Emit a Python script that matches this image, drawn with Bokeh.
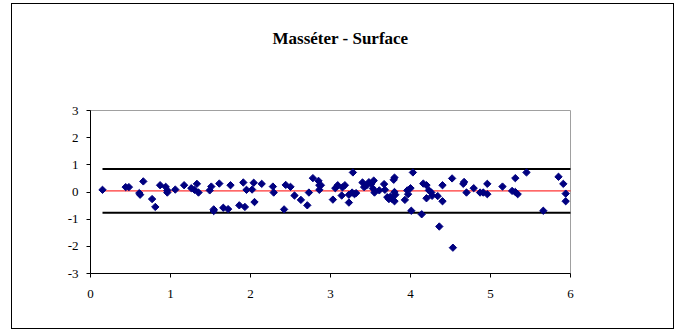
from bokeh.plotting import figure
from bokeh.models import Range1d, FixedTicker, Title
from bokeh.embed import file_html
from bokeh.resources import INLINE

title_text = "Masséter - Surface"

x_vals = [0.15, 0.44, 0.48, 0.61, 0.62, 0.66, 0.77, 0.81, 0.87, 0.94, 0.96, 0.96,
          1.06, 1.17, 1.26, 1.30, 1.33, 1.35, 1.49, 1.51, 1.54, 1.54, 1.61, 1.66,
          1.72, 1.75, 1.86, 1.91, 1.93, 1.95, 2.02, 2.04, 2.05, 2.14, 2.28, 2.29,
          2.42, 2.44, 2.50, 2.55, 2.63, 2.71, 2.73, 2.78, 2.85, 2.86, 2.86, 2.88,
          3.03, 3.06, 3.09, 3.14, 3.15, 3.18, 3.23, 3.23, 3.27, 3.28, 3.30, 3.32,
          3.40, 3.42, 3.45, 3.48, 3.51, 3.54, 3.53, 3.55, 3.61, 3.67, 3.68, 3.71,
          3.73, 3.75, 3.79, 3.80, 3.80, 3.80, 3.81, 3.77, 3.93, 3.96, 3.97, 4.00,
          4.01, 4.03, 4.14, 4.16, 4.20, 4.20, 4.23, 4.26, 4.27, 4.34, 4.36, 4.40,
          4.40, 4.52, 4.53, 4.66, 4.67, 4.70, 4.79, 4.87, 4.91, 4.96, 4.96, 5.15,
          5.27, 5.31, 5.31, 5.34, 5.45, 5.66, 5.85, 5.91, 5.94, 5.94]
y_vals = [0.08, 0.18, 0.18, -0.04, -0.10, 0.39, -0.26, -0.55, 0.25, 0.19, -0.02, 0.06,
          0.09, 0.25, 0.14, 0.08, 0.30, -0.02, 0.06, 0.20, -0.64, -0.70, 0.31, -0.58,
          -0.63, 0.25, -0.49, 0.35, -0.55, 0.08, 0.09, 0.34, -0.37, 0.30, 0.20, -0.02,
          -0.64, 0.26, 0.19, -0.13, -0.29, -0.49, -0.02, 0.51, 0.41, 0.25, 0.08, 0.25,
          -0.28, 0.14, 0.25, -0.13, 0.17, 0.25, -0.39, -0.10, -0.02, 0.72, -0.08, -0.04,
          0.35, 0.18, 0.24, 0.36, 0.30, 0.42, 0.13, -0.02, 0.06, 0.29, 0.08, -0.19,
          -0.26, -0.17, 0.45, 0.53, -0.34, 0.00, -0.10, -0.26, -0.29, 0.06, -0.08, 0.14,
          -0.69, 0.72, -0.82, 0.31, 0.25, -0.23, 0.06, -0.02, -0.14, -0.15, -1.27, 0.25,
          -0.34, 0.50, -2.05, 0.30, 0.37, -0.02, 0.14, -0.02, -0.02, 0.30, -0.08, 0.20,
          0.04, 0.51, 0.00, -0.08, 0.72, -0.69, 0.56, 0.30, -0.06, -0.34]

line_x = [0.15, 6.05]
mean_diff = 0.04
upper_limit = 0.85
lower_limit = -0.76

x_ticks = [0, 1, 2, 3, 4, 5, 6]
y_ticks = [-3, -2, -1, 0, 1, 2, 3]

SERIF = "'Liberation Serif'"

p = figure(width=663, height=326, output_backend="svg", toolbar_location=None,
           x_range=Range1d(0, 6), y_range=Range1d(-3, 3),
           min_border_left=78, min_border_right=105,
           min_border_top=106, min_border_bottom=57)

p.styles = {"border": "1px solid black", "box-sizing": "border-box",
            "margin-left": "11px", "margin-top": "3px"}

# invisible spacer between the frame and the title
spacer = Title(text=" ", text_font_size="1px", standoff=55)
p.add_layout(spacer, "above")

p.title.text = title_text
p.title.text_font = SERIF
p.title.text_font_style = "bold"
p.title.text_font_size = "17px"
p.title.text_color = "black"
p.title.align = "left"
p.title.offset = 182
p.title.standoff = 10

p.xgrid.visible = False
p.ygrid.visible = False
p.outline_line_color = "#a0a0a0"
p.outline_line_width = 1

for ax in (p.xaxis, p.yaxis):
    ax.axis_line_color = "black"
    ax.major_tick_line_color = "black"
    ax.major_tick_out = 4
    ax.major_tick_in = 0
    ax.minor_tick_line_color = None
    ax.major_label_text_font = SERIF
    ax.major_label_text_font_size = "13px"
    ax.major_label_text_color = "black"

p.xaxis.major_label_standoff = 12
p.yaxis.major_label_standoff = 8

p.xaxis.ticker = FixedTicker(ticks=x_ticks)
p.yaxis.ticker = FixedTicker(ticks=y_ticks)
p.xaxis.major_label_overrides = {t: str(t) for t in x_ticks}
p.yaxis.major_label_overrides = {t: str(t) for t in y_ticks}

p.line(line_x, [upper_limit] * 2, line_color="black", line_width=2)
p.line(line_x, [lower_limit] * 2, line_color="black", line_width=2)
p.line(line_x, [mean_diff] * 2, line_color="#ff0000", line_width=1)

p.scatter(x_vals, y_vals, marker="square", size=5.2, angle=0.785,
          fill_color="#000080", line_color="#000080")

open("out.html", "w").write(file_html(p, INLINE))
